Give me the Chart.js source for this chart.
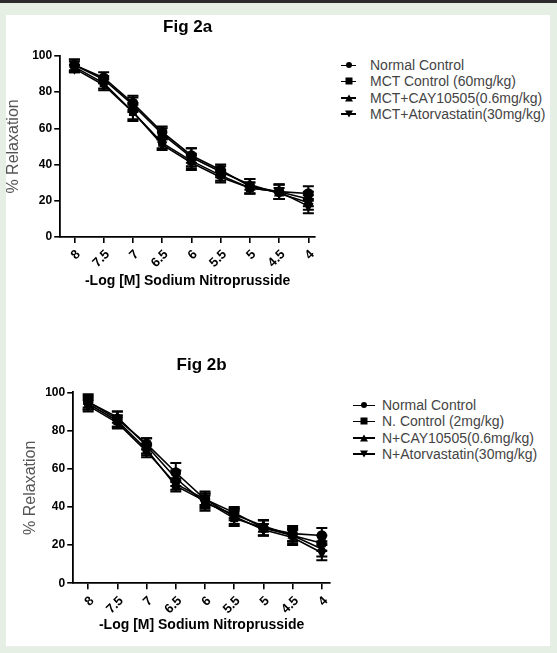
<!DOCTYPE html>
<html>
<head>
<meta charset="utf-8">
<script src="https://cdn.jsdelivr.net/npm/chart.js@4.4.0/dist/chart.umd.min.js"></script>
<style>
  body { margin: 0; width: 557px; height: 653px; background: #e6efe4; position: relative; overflow: hidden; font-family: "Liberation Sans", Arial, sans-serif; }
  #faixa { position: absolute; left: 0; top: 0; width: 557px; height: 3px; background: #2b2b2b; }
  #painel { position: absolute; left: 6px; top: 15px; width: 544px; height: 631px; background: #fff; }
  canvas { position: absolute; }
  .leg { position: absolute; font-size: 14px; color: #444; }
  .leg div { height: 16.3px; line-height: 16.3px; white-space: nowrap; }
  .mk { display: inline-block; position: relative; height: 16px; vertical-align: top; }
  .mk::before { content: ""; position: absolute; left: 0; right: 0; top: 7.5px; height: 1.6px; background: #000; }
  .mk i { position: absolute; left: 50%; top: 50%; transform: translate(-50%, -50%); }
  .circ { width: 6px; height: 6px; border-radius: 50%; background: #000; }
  .quad { width: 7px; height: 7px; background: #000; }
  .tri { width: 0; height: 0; border-left: 4px solid transparent; border-right: 4px solid transparent; border-bottom: 7px solid #000; }
  .trib { width: 0; height: 0; border-left: 4px solid transparent; border-right: 4px solid transparent; border-top: 7px solid #000; }
</style>
</head>
<body>
<div id="faixa"></div>
<div id="painel"></div>
<canvas id="figA" width="330" height="300" style="left:0px; top:0px; width:330px; height:300px;"></canvas>
<canvas id="figB" width="350" height="323" style="left:0px; top:330px; width:350px; height:323px;"></canvas>
<div id="legA" class="leg" style="left:341px; top:57px;"></div>
<div id="legB" class="leg" style="left:353px; top:397px;"></div>

<script>
// -Log [M] Sodium Nitroprusside
const doses = [8, 7.5, 7, 6.5, 6, 5.5, 5, 4.5, 4];
const yTicks = [0, 20, 40, 60, 80, 100];

// Fig 2a
const nomesA = ['Normal Control', 'MCT Control (60mg/kg)', 'MCT+CAY10505(0.6mg/kg)', 'MCT+Atorvastatin(30mg/kg)'];
const normalA = [95, 88, 74, 58, 45, 37, 28, 25, 24];
const mctA = [94, 85, 69, 52, 42, 34, 27, 25, 21];
const cayA = [95, 87, 73, 57, 44, 36, 29, 24, 19];
const atorA = [93, 84, 69, 51, 41, 33, 27, 25, 17];
const semNormalA = [3, 3, 4, 3, 4, 3, 4, 4, 4];
const semMctA = [3, 3, 5, 3, 4, 3, 3, 4, 4];
const semCayA = [3, 2, 4, 3, 5, 3, 3, 3, 4];
const semAtorA = [2, 3, 4, 3, 4, 3, 3, 4, 4];

// Fig 2b
const nomesB = ['Normal Control', 'N. Control (2mg/kg)', 'N+CAY10505(0.6mg/kg)', 'N+Atorvastatin(30mg/kg)'];
const normalB = [95, 86, 73, 58, 44, 37, 29, 26, 25];
const nB = [94, 85, 70, 51, 43, 34, 29, 25, 21];
const cayB = [95, 87, 72, 55, 42, 36, 30, 25, 18];
const atorB = [93, 84, 69, 52, 44, 35, 28, 24, 16];
const semNormalB = [4, 4, 3, 5, 4, 3, 4, 4, 4];
const semNB = [3, 3, 3, 3, 4, 4, 4, 4, 4];
const semCayB = [3, 3, 4, 4, 4, 3, 3, 3, 4];
const semAtorB = [3, 3, 3, 3, 3, 4, 3, 4, 4];

const fonte = '"Liberation Sans", Arial, sans-serif';
const estilos = [
  { pointStyle: 'circle', rot: 0, cls: 'circ' },
  { pointStyle: 'rect', rot: 0, cls: 'quad' },
  { pointStyle: 'triangle', rot: 0, cls: 'tri' },
  { pointStyle: 'triangle', rot: 180, cls: 'trib' }
];

const barrasErro = {
  id: 'barrasErro',
  afterDatasetsDraw(chart) {
    const ctx = chart.ctx;
    const y = chart.scales.y;
    chart.data.datasets.forEach(function (ds, i) {
      const meta = chart.getDatasetMeta(i);
      meta.data.forEach(function (pt, j) {
        const v = ds.data[j].y;
        const e = ds.sem[j];
        const topo = y.getPixelForValue(v + e);
        const base = y.getPixelForValue(v - e);
        ctx.save();
        ctx.strokeStyle = '#000';
        ctx.lineWidth = 2;
        ctx.beginPath();
        ctx.moveTo(pt.x, topo); ctx.lineTo(pt.x, base);
        ctx.moveTo(pt.x - 5.5, topo); ctx.lineTo(pt.x + 5.5, topo);
        ctx.moveTo(pt.x - 5.5, base); ctx.lineTo(pt.x + 5.5, base);
        ctx.stroke();
        ctx.restore();
      });
    });
  }
};

function montarDatasets(nomes, series, sems) {
  return series.map(function (valores, i) {
    return {
      label: nomes[i],
      data: valores.map(function (v, j) { return { x: doses[j], y: v }; }),
      sem: sems[i],
      borderColor: '#000',
      backgroundColor: '#000',
      borderWidth: 1.6,
      pointStyle: estilos[i].pointStyle,
      pointRotation: estilos[i].rot,
      pointRadius: 4.5,
      pointBackgroundColor: '#000',
      pointBorderColor: '#000',
      tension: 0
    };
  });
}

function criarGrafico(id, titulo, nomes, series, sems, lay) {
  return new Chart(document.getElementById(id), {
    type: 'line',
    data: { datasets: montarDatasets(nomes, series, sems) },
    plugins: [barrasErro],
    options: {
      responsive: false,
      animation: false,
      layout: { padding: lay.padding },
      plugins: {
        legend: { display: false },
        tooltip: { enabled: false },
        title: {
          display: true,
          fullSize: false,
          text: titulo,
          color: '#000',
          font: { family: fonte, size: 17, weight: 'bold' },
          padding: lay.titlePad
        }
      },
      scales: {
        x: {
          type: 'linear',
          reverse: true,
          min: lay.xMin,
          max: lay.xMax,
          afterBuildTicks: function (s) { s.ticks = doses.map(function (v) { return { value: v }; }); },
          grid: { drawOnChartArea: false, drawTicks: true, tickLength: 6, color: '#000', lineWidth: 1.6 },
          border: { display: true, color: '#000', width: 1.8 },
          ticks: {
            color: '#000',
            minRotation: 45,
            maxRotation: 45,
            padding: 4,
            labelOffset: 4,
            autoSkip: false,
            font: { family: fonte, size: 13, weight: 'bold' },
            callback: function (v) { return String(v); }
          },
          title: {
            display: true,
            text: '-Log [M] Sodium Nitroprusside',
            color: '#000',
            font: { family: fonte, size: 14, weight: 'bold' },
            padding: lay.xTitlePad
          }
        },
        y: {
          min: 0,
          max: 100,
          afterBuildTicks: function (s) { s.ticks = yTicks.map(function (v) { return { value: v }; }); },
          grid: { drawOnChartArea: false, drawTicks: true, tickLength: 6, color: '#000', lineWidth: 1.6 },
          border: { display: true, color: '#000', width: 1.8 },
          ticks: {
            color: '#000',
            padding: 2,
            font: { family: fonte, size: 12, weight: 'bold' }
          },
          title: {
            display: true,
            text: '% Relaxation',
            color: '#555',
            font: { family: fonte, size: 16 },
            padding: lay.yTitlePad
          }
        }
      }
    }
  });
}

function montarLegenda(id, nomes, largura, espaco) {
  const div = document.getElementById(id);
  nomes.forEach(function (nome, i) {
    const linha = document.createElement('div');
    linha.innerHTML = '<span class="mk" style="width:' + largura + 'px; margin-right:' + espaco + 'px;"><i class="' + estilos[i].cls + '"></i></span>' + nome;
    div.appendChild(linha);
  });
}

criarGrafico('figA', 'Fig 2a', nomesA,
  [normalA, mctA, cayA, atorA],
  [semNormalA, semMctA, semCayA, semAtorA],
  {
    padding: { left: 0, right: 15, top: 0, bottom: 0 },
    titlePad: { top: 17.4, bottom: 18.2 },
    xTitlePad: { top: -2, bottom: 10.5 },
    yTitlePad: { top: 4, bottom: 7 },
    xMin: 3.886, xMax: 8.243
  });

criarGrafico('figB', 'Fig 2b', nomesB,
  [normalB, nB, cayB, atorB],
  [semNormalB, semNB, semCayB, semAtorB],
  {
    padding: { left: 17, right: 20, top: 0, bottom: 0 },
    titlePad: { top: 24.8, bottom: 17.1 },
    xTitlePad: { top: -4.4, bottom: 19.5 },
    yTitlePad: { top: 4, bottom: 3 },
    xMin: 3.86, xMax: 8.256
  });

montarLegenda('legA', nomesA, 15, 14);
montarLegenda('legB', nomesB, 22, 7);
</script>
</body>
</html>
